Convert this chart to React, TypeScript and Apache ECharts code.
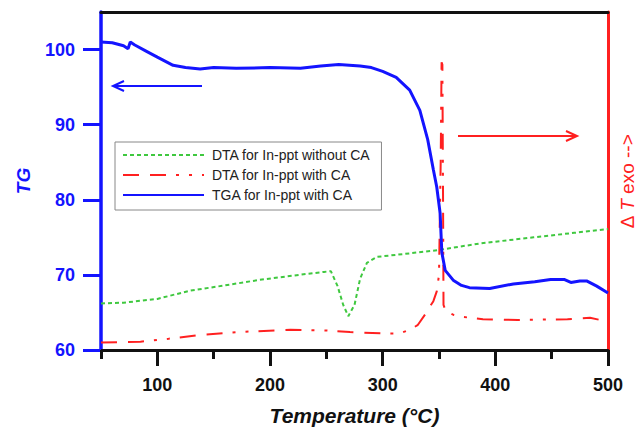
import React, { useEffect, useRef } from "react";
import * as echarts from "echarts";

// TGA for In-ppt with CA (blue, left axis TG)
const tgaT = [50, 60, 70, 74, 76, 80, 90, 100, 114, 125, 138, 150, 170, 200, 227, 245, 261, 280, 290, 300, 312, 324, 333, 340, 345, 348, 351, 352.5, 355.5, 362.6, 370, 377, 395, 416, 435, 449, 461, 467, 475, 481, 490, 500];
const tgaV = [101.0, 100.9, 100.5, 100.1, 101.0, 100.6, 99.8, 99.0, 97.9, 97.6, 97.4, 97.6, 97.5, 97.6, 97.5, 97.8, 98.0, 97.8, 97.6, 97.1, 96.3, 94.6, 91.9, 88.0, 84.0, 81.7, 78.2, 73.0, 70.6, 69.3, 68.6, 68.3, 68.2, 68.8, 69.1, 69.4, 69.4, 69.0, 69.2, 69.2, 68.5, 67.6];

// DTA for In-ppt without CA (green)
const dtaNoT = [50, 70, 100, 129, 160, 189, 220, 248, 254, 260, 265, 269.5, 275, 280, 286, 295, 320, 349, 387, 434, 470, 500];
const dtaNoV = [66.2, 66.3, 66.8, 67.9, 68.6, 69.3, 69.9, 70.4, 70.5, 68.5, 66.0, 64.5, 66.0, 69.5, 71.6, 72.4, 72.8, 73.3, 74.2, 75.0, 75.6, 76.1];

// DTA for In-ppt with CA (red)
const dtaCaT = [50, 85, 110, 138, 174, 218, 250, 271, 300, 315, 324, 331, 338, 342, 345, 348, 350, 351.5, 352.3, 353, 353.6, 354, 356, 362.6, 371.5, 389, 420, 464, 484, 493, 495];
const dtaCaV = [61.0, 61.1, 61.5, 62.0, 62.4, 62.7, 62.6, 62.4, 62.2, 62.2, 62.7, 63.3, 64.8, 65.8, 66.5, 67.8, 70.0, 85.0, 98.3, 98.0, 80.0, 66.0, 65.2, 64.7, 64.4, 64.1, 64.0, 64.1, 64.3, 64.0, 63.8];

const xMajor = [100, 200, 300, 400, 500];
const xMinor = [50, 150, 250, 350, 450];
const yTicks = [60, 70, 80, 90, 100];

const legendNames = ["DTA for In-ppt without CA", "DTA for In-ppt with CA", "TGA for In-ppt with CA"];

const BLUE = "#1414ff";
const RED = "#ff2020";
const GREEN = "#3fc83f";

const zip = (a: number[], b: number[]) => a.map((v, i) => [v, b[i]]);

export default function App() {
  const ref = useRef<HTMLDivElement>(null);
  useEffect(() => {
    const chart = echarts.init(ref.current!, null, { renderer: "svg" });
    chart.setOption({
      animation: false,
      backgroundColor: "#ffffff",
      grid: { left: 101, right: 32, top: 12, bottom: 78, containLabel: false, outerBoundsMode: "none" },
      legend: {
        left: 115,
        top: 142,
        orient: "vertical",
        itemWidth: 81,
        itemHeight: 14,
        itemGap: 6,
        padding: [6, 11, 8, 7],
        borderColor: "#888888",
        borderWidth: 1,
        data: legendNames,
        itemStyle: { opacity: 0 },
        textStyle: { fontFamily: "Liberation Sans, Arial", fontSize: 14, color: "#222222", padding: [0, 0, 0, 3] },
      },
      xAxis: [
        {
          type: "value",
          min: 50,
          max: 500,
          position: "bottom",
          name: "Temperature (°C)",
          nameLocation: "middle",
          nameGap: 55,
          nameTextStyle: { fontFamily: "Liberation Sans, Arial", fontSize: 21, fontWeight: "bold", fontStyle: "italic", color: "#111111" },
          axisLine: { show: true, onZero: false, lineStyle: { color: "#111111", width: 3 } },
          axisTick: { show: true, length: 16, customValues: xMajor, lineStyle: { color: "#111111", width: 3 } },
          axisLabel: { customValues: xMajor, margin: 26, fontFamily: "Liberation Sans, Arial", fontSize: 18, fontWeight: "bold", color: "#111111" },
          splitLine: { show: false },
        },
        {
          type: "value",
          min: 50,
          max: 500,
          position: "bottom",
          axisLine: { show: false, onZero: false },
          axisTick: { show: true, length: 9, customValues: xMinor, lineStyle: { color: "#111111", width: 3 } },
          axisLabel: { show: false },
          splitLine: { show: false },
        },
        {
          type: "value",
          min: 50,
          max: 500,
          position: "top",
          axisLine: { show: true, onZero: false, lineStyle: { color: "#111111", width: 3 } },
          axisTick: { show: false },
          axisLabel: { show: false },
          splitLine: { show: false },
        },
      ],
      yAxis: [
        {
          type: "value",
          min: 60,
          max: 105,
          position: "left",
          name: "TG",
          nameLocation: "middle",
          nameGap: 68,
          nameTextStyle: { fontFamily: "Liberation Sans, Arial", fontSize: 19, fontWeight: "bold", fontStyle: "italic", color: BLUE },
          axisLine: { show: true, onZero: false, lineStyle: { color: BLUE, width: 3.5 } },
          axisTick: { show: true, length: 18, customValues: yTicks, lineStyle: { color: BLUE, width: 3 } },
          axisLabel: { customValues: yTicks, margin: 26, fontFamily: "Liberation Sans, Arial", fontSize: 18, fontWeight: "bold", color: BLUE },
          splitLine: { show: false },
        },
        {
          type: "value",
          min: 60,
          max: 105,
          position: "right",
          name: "{d|∆ }{t|T}{d| exo -->}",
          nameLocation: "middle",
          nameGap: 9,
          nameRotate: 90,
          nameTextStyle: {
            color: RED,
            rich: {
              d: { fontFamily: "Liberation Sans, Arial", fontSize: 19, lineHeight: 20, color: RED },
              t: { fontFamily: "Liberation Sans, Arial", fontSize: 19, lineHeight: 20, fontStyle: "italic", color: RED },
            },
          },
          axisLine: { show: true, onZero: false, lineStyle: { color: RED, width: 3 } },
          axisTick: { show: false },
          axisLabel: { show: false },
          splitLine: { show: false },
        },
      ],
      series: [
        {
          name: legendNames[0],
          type: "line",
          xAxisIndex: 0,
          yAxisIndex: 1,
          symbol: "none",
          data: zip(dtaNoT, dtaNoV),
          lineStyle: { color: GREEN, width: 2, type: [4, 3] },
          itemStyle: { color: GREEN },
          z: 2,
        },
        {
          name: legendNames[1],
          type: "line",
          xAxisIndex: 0,
          yAxisIndex: 1,
          symbol: "none",
          data: zip(dtaCaT, dtaCaV),
          lineStyle: { color: RED, width: 2, type: [16, 11, 16, 10, 3, 10, 3, 10] },
          itemStyle: { color: RED },
          z: 3,
        },
        {
          name: legendNames[2],
          type: "line",
          xAxisIndex: 0,
          yAxisIndex: 0,
          symbol: "none",
          data: zip(tgaT, tgaV),
          lineStyle: { color: BLUE, width: 3 },
          itemStyle: { color: BLUE },
          z: 4,
        },
      ],
      graphic: [
        { type: "line", shape: { x1: 202, y1: 86, x2: 113, y2: 86 }, style: { stroke: BLUE, lineWidth: 2 } },
        { type: "polyline", shape: { points: [[124, 81], [113, 86], [124, 91]] }, style: { stroke: BLUE, lineWidth: 2, fill: "none" } },
        { type: "line", shape: { x1: 458, y1: 136, x2: 577, y2: 136 }, style: { stroke: RED, lineWidth: 2 } },
        { type: "polyline", shape: { points: [[566, 131], [577, 136], [566, 141]] }, style: { stroke: RED, lineWidth: 2, fill: "none" } },
      ],
    });
    return () => chart.dispose();
  }, []);
  return <div ref={ref} style={{ width: 640, height: 428, position: "absolute", left: 0, top: 0 }} />;
}
